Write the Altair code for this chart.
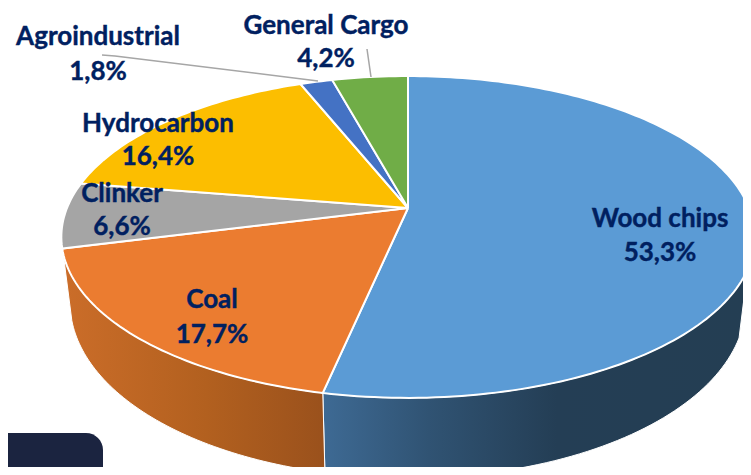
import math
import altair as alt
import pandas as pd

# Chart values
categories = ["Wood chips", "Coal", "Clinker", "Hydrocarbon", "Agroindustrial", "General Cargo"]
shares = [53.3, 17.7, 6.6, 16.4, 1.8, 4.2]
share_labels = ["53,3%", "17,7%", "6,6%", "16,4%", "1,8%", "4,2%"]
colors = ["#5B9BD5", "#EB7C30", "#A5A5A5", "#FCBE00", "#4472C4", "#70AD47"]

# Label layout (image pixels): centre x, name y, share y
label_x = [660, 212, 122, 158, 98, 326]
label_name_y = [219, 300, 194, 124, 37, 26]
label_share_y = [253, 335, 227, 157, 72, 59]

# Perspective pie geometry
HX, HY, A, B, K = 408, 208, 341, 155.7, 0.18
CLEFT, CTOP, CRIGHT, CBOTTOM = 8, 8, 743, 467
W, H = CRIGHT - CLEFT, CBOTTOM - CTOP


def rim(pct):
    t = math.radians(pct * 3.6)
    u, v = math.sin(t), math.cos(t)
    d = 1 + K * v
    return HX + A * u / d, HY - B * v / d


def low(pct):
    t = math.radians(pct * 3.6)
    x, y = rim(pct)
    return HX + (x - HX) * 0.975, y + 62 + 18 * max(0, -math.cos(t))


X = alt.X("x:Q", scale=alt.Scale(domain=[CLEFT, CRIGHT], nice=False, zero=False), axis=None)
Y = alt.Y("y:Q", scale=alt.Scale(domain=[CBOTTOM, CTOP], nice=False, zero=False), axis=None)


def poly(points, **mark):
    df = pd.DataFrame([{"x": p[0], "y": p[1], "i": i} for i, p in enumerate(points)])
    return alt.Chart(df).mark_line(clip=True, **mark).encode(x=X, y=Y, order=alt.Order("i:Q"))


def grad(stops):
    return alt.LinearGradient(
        gradient="linear", x1=0, x2=1, y1=0, y2=0,
        stops=[alt.GradientStop(offset=o, color=c) for o, c in stops],
    )


layers = []

# Dark rounded box at bottom-left
box = pd.DataFrame({"x": [CLEFT], "x2": [103], "y": [433], "y2": [CBOTTOM]})
layers.append(
    alt.Chart(box).mark_bar(color="#1B2440", cornerRadiusTopRight=34).encode(x=X, x2="x2:Q", y=Y, y2="y2:Q")
)

# Side walls
cum = [0]
for s in shares:
    cum.append(cum[-1] + s)


def frange(a, b, n=60):
    return [a + (b - a) * i / n for i in range(n + 1)]


wall_blue = frange(31, cum[1])
wall_orange = frange(cum[1], cum[2] - 0.5)
for rng, g in [
    (wall_blue, grad([(0, "#3E6A94"), (0.25, "#305373"), (0.55, "#243E55"), (1, "#243E53")])),
    (wall_orange, grad([(0, "#CB6D29"), (0.55, "#B2601F"), (1, "#9A511C")])),
]:
    pts = [rim(p) for p in rng] + [low(p) for p in reversed(rng)]
    pts.append(pts[0])
    layers.append(poly(pts, fill=g, stroke="#FFFFFF", strokeWidth=1))

# Top surface slices
for i in range(len(shares)):
    arc = [rim(p) for p in frange(cum[i], cum[i + 1], max(6, int(shares[i] * 3)))]
    pts = [(HX, HY)] + arc + [(HX, HY)]
    layers.append(poly(pts, fill=colors[i], stroke="#FFFFFF", strokeWidth=2))

# Leader lines
layers.append(poly([(102, 55), (115, 56), (318, 81)], color="#A6A6A6", strokeWidth=1.5))
layers.append(poly([(367, 49), (371, 77)], color="#A6A6A6", strokeWidth=1.5))

# Labels
labels = pd.DataFrame(
    [{"x": x, "y": y, "t": c} for x, y, c in zip(label_x, label_name_y, categories)]
    + [{"x": x, "y": y, "t": c} for x, y, c in zip(label_x, label_share_y, share_labels)]
)
layers.append(
    alt.Chart(labels)
    .mark_text(font="Lato", fontWeight="bold", fontSize=26, color="#002060", align="center", baseline="middle",
               stroke="#002060", strokeWidth=0.4)
    .encode(x=X, y=Y, text="t:N")
)

chart = (
    alt.layer(*layers)
    .properties(width=W, height=H, padding=0, autosize=alt.AutoSizeParams(type="none"))
    .configure_view(stroke=None)
)
chart.save("out.html", embed_options={"renderer": "svg", "actions": False})
